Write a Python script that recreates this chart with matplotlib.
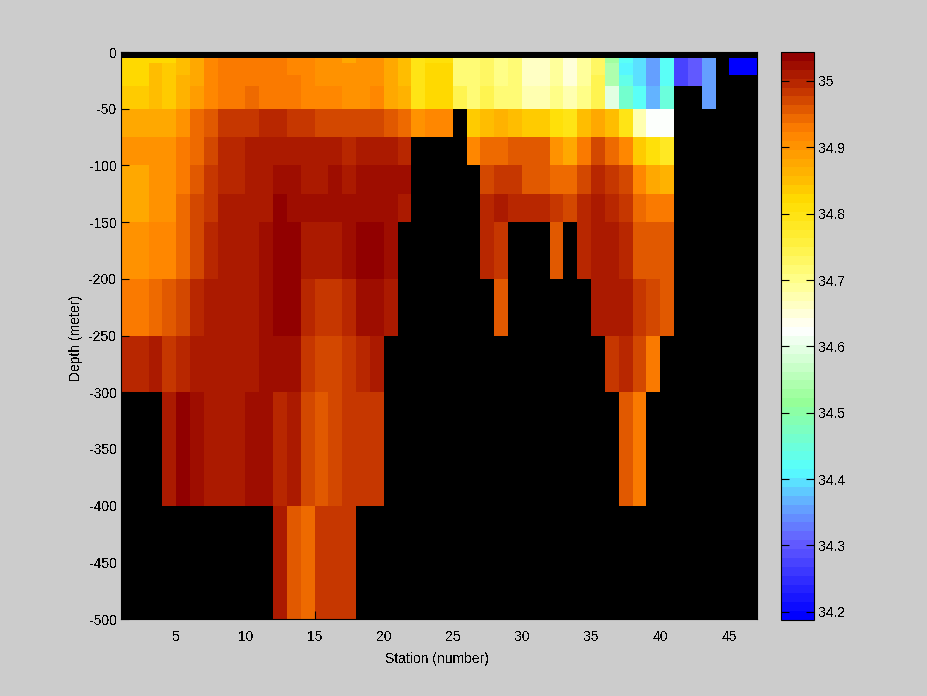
#!/usr/bin/env python3
# Salinity section: station vs depth
import numpy as np
import matplotlib
matplotlib.use("Agg")
import matplotlib.pyplot as plt
from matplotlib.colors import LinearSegmentedColormap

n = np.nan

# station edges and depth edges
stations = list(range(1, 48))
depths = [0, -5, -10, -20, -30, -50, -75, -100, -125, -150, -200, -250, -300, -400, -500]

# one list per layer, stations 1..46
s_000 = [n] * 46
s_005 = [34.823, 34.823, 34.823, 34.823, 34.85, 34.88, 34.91, 34.93, 34.93, 34.93, 34.93, 34.93,
         34.91, 34.91, 34.897, 34.897, 34.88, 34.897, 34.897, 34.88, 34.85, 34.80, 34.81, 34.81,
         34.72, 34.715, 34.735, 34.705, 34.72, 34.66, 34.66, 34.69, 34.645, 34.69, 34.735, 34.53,
         34.42, 34.39, 34.35, 34.42, 34.27, 34.30, 34.36, n, 34.19, 34.19]
s_010 = [34.823, 34.823, 34.845, 34.83, 34.85, 34.88, 34.91, 34.93, 34.93, 34.93, 34.93, 34.93,
         34.91, 34.91, 34.897, 34.897, 34.897, 34.897, 34.897, 34.88, 34.85, 34.80, 34.823, 34.823,
         34.72, 34.715, 34.735, 34.705, 34.72, 34.66, 34.66, 34.69, 34.645, 34.69, 34.735, 34.54,
         34.41, 34.39, 34.35, 34.42, 34.27, 34.30, 34.36, n, 34.19, 34.19]
s_020 = [34.823, 34.823, 34.845, 34.83, 34.863, 34.88, 34.91, 34.93, 34.93, 34.93, 34.93, 34.93,
         34.93, 34.91, 34.897, 34.897, 34.897, 34.897, 34.897, 34.88, 34.85, 34.80, 34.823, 34.823,
         34.72, 34.715, 34.735, 34.705, 34.72, 34.66, 34.66, 34.69, 34.645, 34.69, 34.74, 34.54,
         34.44, 34.39, 34.35, 34.42, 34.27, 34.30, 34.36, n, n, n]
s_030 = [34.83, 34.83, 34.845, 34.83, 34.863, 34.89, 34.91, 34.93, 34.93, 34.945, 34.93, 34.93,
         34.93, 34.92, 34.92, 34.92, 34.897, 34.897, 34.91, 34.88, 34.863, 34.80, 34.823, 34.823,
         34.74, 34.72, 34.745, 34.715, 34.715, 34.675, 34.675, 34.70, 34.675, 34.70, 34.74, 34.60,
         34.46, 34.42, 34.37, 34.45, n, n, 34.36, n, n, n]
s_050 = [34.88, 34.88, 34.88, 34.88, 34.905, 34.943, 34.957, 34.983, 34.983, 34.983, 34.997, 34.997,
         34.98, 34.98, 34.97, 34.97, 34.97, 34.97, 34.97, 34.957, 34.943, 34.897, 34.91, 34.91,
         n, 34.83, 34.845, 34.86, 34.845, 34.83, 34.83, 34.81, 34.79, 34.845, 34.88, 34.845,
         34.80, 34.68, 34.62, 34.62, n, n, n, n, n, n]
s_075 = [34.897, 34.897, 34.897, 34.897, 34.93, 34.943, 34.97, 34.997, 34.997, 35.01, 35.01, 35.01,
         35.01, 35.01, 35.01, 35.01, 34.997, 35.01, 35.01, 35.01, 34.997, n, n, n,
         n, 34.91, 34.943, 34.943, 34.957, 34.957, 34.957, 34.905, 34.87, 34.93, 34.97, 34.943,
         34.91, 34.83, 34.81, 34.78, n, n, n, n, n, n]
s_100 = [34.88, 34.88, 34.897, 34.897, 34.93, 34.957, 34.983, 34.997, 34.997, 35.01, 35.01, 35.024,
         35.024, 35.01, 35.01, 35.024, 35.01, 35.024, 35.024, 35.024, 35.024, n, n, n,
         n, n, 34.97, 34.983, 34.983, 34.957, 34.957, 34.943, 34.943, 34.97, 34.997, 34.983,
         34.97, 34.91, 34.88, 34.863, n, n, n, n, n, n]
s_125 = [34.88, 34.88, 34.897, 34.897, 34.943, 34.97, 34.983, 35.01, 35.01, 35.01, 35.01, 35.037,
         35.024, 35.024, 35.024, 35.024, 35.024, 35.024, 35.024, 35.024, 35.01, n, n, n,
         n, n, 34.997, 35.01, 34.997, 34.997, 34.997, 34.983, 34.97, 34.997, 35.01, 34.997,
         34.983, 34.943, 34.93, 34.93, n, n, n, n, n, n]
s_150 = [34.897, 34.897, 34.91, 34.91, 34.943, 34.97, 34.997, 35.01, 35.01, 35.01, 35.024, 35.037,
         35.037, 35.01, 35.01, 35.01, 35.024, 35.037, 35.037, 35.024, n, n, n, n,
         n, n, 34.997, 34.983, n, n, n, 34.957, n, 34.997, 35.01, 35.01,
         34.997, 34.957, 34.957, 34.957, n, n, n, n, n, n]
s_200 = [34.93, 34.93, 34.943, 34.957, 34.97, 34.997, 35.01, 35.01, 35.01, 35.01, 35.024, 35.037,
         35.037, 34.997, 34.983, 34.983, 34.997, 35.024, 35.024, 35.01, n, n, n, n,
         n, n, n, 34.957, n, n, n, n, n, n, 35.01, 35.01,
         35.01, 34.983, 34.97, 34.957, n, n, n, n, n, n]
s_250 = [34.997, 34.997, 35.01, 34.983, 34.997, 35.01, 35.01, 35.01, 35.01, 35.01, 35.024, 35.024,
         35.024, 34.983, 34.97, 34.97, 34.983, 34.997, 35.01, n, n, n, n, n,
         n, n, n, n, n, n, n, n, n, n, n, 34.983,
         34.997, 34.97, 34.93, n, n, n, n, n, n, n]
s_300 = [n, n, n, 35.01, 35.037, 35.024, 35.01, 35.01, 35.01, 35.024, 35.024, 34.997,
         35.01, 34.97, 34.957, 34.97, 34.983, 34.983, 34.983, n, n, n, n, n,
         n, n, n, n, n, n, n, n, n, n, n, n,
         34.957, 34.93, n, n, n, n, n, n, n, n]
s_400 = [n, n, n, n, n, n, n, n, n, n, n, 35.01,
         34.957, 34.943, 34.983, 34.983, 34.983, n, n, n, n, n, n, n,
         n, n, n, n, n, n, n, n, n, n, n, n,
         n, n, n, n, n, n, n, n, n, n]

xticks = [5, 10, 15, 20, 25, 30, 35, 40, 45]
yticks = [0, -50, -100, -150, -200, -250, -300, -350, -400, -450, -500]
cticks = [34.2, 34.3, 34.4, 34.5, 34.6, 34.7, 34.8, 34.9, 35]
cmin, cmax = 34.1875, 35.0437

salt = np.array([s_000, s_005, s_010, s_020, s_030, s_050, s_075, s_100,
                 s_125, s_150, s_200, s_250, s_300, s_400])

# colormap, blue through white to dark red
anchors = [(34.1875, (0, 0, 255)), (34.30, (100, 92, 255)), (34.36, (100, 172, 255)),
           (34.41, (85, 255, 255)), (34.516, (150, 255, 150)), (34.625, (255, 255, 255)),
           (34.70, (255, 255, 140)), (34.76, (255, 240, 60)), (34.80, (255, 228, 20)),
           (34.823, (255, 220, 0)), (34.85, (255, 192, 0)), (34.89, (255, 160, 0)),
           (34.93, (255, 128, 0)), (34.957, (230, 96, 0)), (34.997, (190, 45, 0)),
           (35.0437, (145, 0, 0))]
cm = LinearSegmentedColormap.from_list(
    "salt", [((v - cmin) / (cmax - cmin), tuple(c / 255 for c in rgb)) for v, rgb in anchors], N=64)
cm.set_bad("black")

plt.rcParams["font.family"] = ["Liberation Sans", "DejaVu Sans"]
plt.rcParams["font.size"] = 10
plt.rcParams["axes.unicode_minus"] = False
plt.rcParams["text.antialiased"] = False

W, H = 928, 696
fig = plt.figure(figsize=(W / 100, H / 100), dpi=100, facecolor="#cccccc")

ax = fig.add_axes([121 / W, 1 - 619 / H, 636 / W, 567 / H], facecolor="black")
pc = ax.pcolormesh(stations, depths, np.ma.masked_invalid(salt), cmap=cm, vmin=cmin, vmax=cmax,
                   shading="flat", antialiased=False)
ax.set_xlim(1, 47)
ax.set_ylim(-500, 0)
ax.set_xticks(xticks)
ax.set_yticks(yticks)
ax.tick_params(direction="in", length=6, width=0.8, colors="black", pad=3)
ax.tick_params(axis="x", pad=8)
ax.set_xlabel("Station (number)", labelpad=6, x=0.496)
ax.set_ylabel("Depth (meter)", labelpad=4, y=0.496)
for sp in ax.spines.values():
    sp.set_linewidth(0.8)

cax = fig.add_axes([781.5 / W, 1 - 620 / H, 32.5 / W, 568 / H])
cb = fig.colorbar(pc, cax=cax, ticks=cticks)
cb.ax.set_yticklabels(["34.2", "34.3", "34.4", "34.5", "34.6", "34.7", "34.8", "34.9", "35"])
cb.ax.tick_params(direction="in", length=6, width=0.8, left=True, right=True, pad=3)
cb.outline.set_linewidth(0.8)

fig.savefig("out.png", dpi=100, facecolor=fig.get_facecolor())
